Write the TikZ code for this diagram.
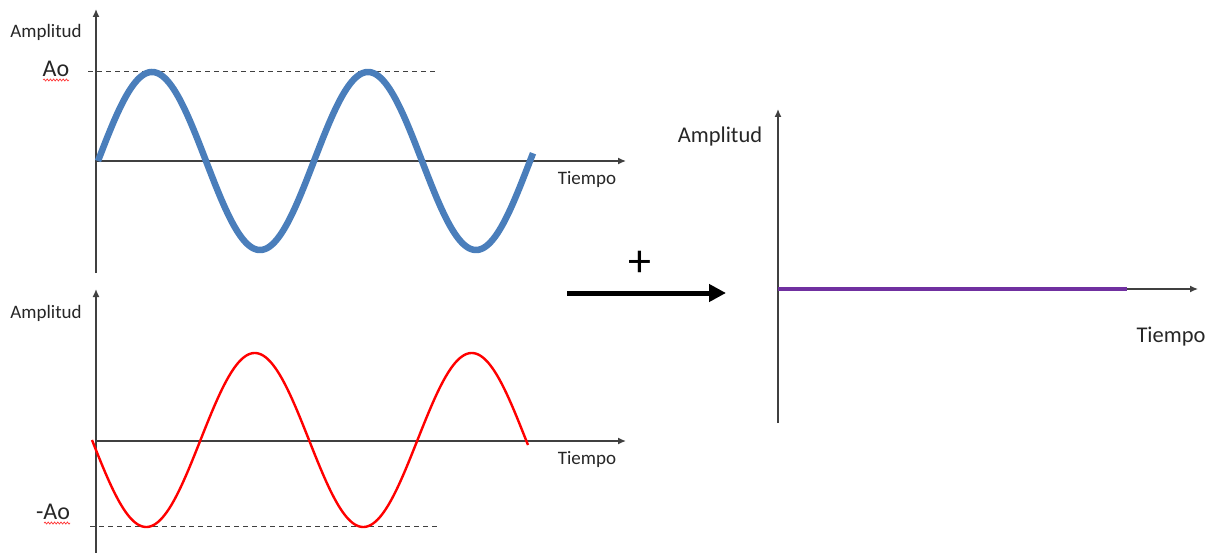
\documentclass[tikz,border=0pt]{standalone}
\usepackage{fontspec}
\setmainfont{Carlito}
\usetikzlibrary{arrows.meta,decorations.pathmorphing}
\definecolor{axisgray}{HTML}{404040}
\definecolor{wblue}{HTML}{4A7EBB}
\definecolor{wpurple}{HTML}{7030A0}
\begin{document}
\begin{tikzpicture}[x=1pt,y=-1pt,
  axis/.style={draw=axisgray,line width=1.4pt,-{Latex[length=8pt,width=7pt]}},
  guide/.style={draw=axisgray,line width=1pt,dash pattern=on 5pt off 4pt},
  smalllab/.style={font=\fontsize{19}{21}\selectfont,text=black!85,inner sep=0pt},
  biglab/.style={font=\fontsize{22.5}{25}\selectfont,text=black!85,inner sep=0pt},
  squig/.style={draw=red!80,line width=0.7pt,decorate,decoration={snake,amplitude=1pt,segment length=3.2pt}}]
\useasboundingbox (0,0) rectangle (1214,553);
% ---- top plot
\coordinate (t0) at (96,273);
\coordinate (ttop) at (96,9);
\coordinate (tx0) at (96,161);
\coordinate (txe) at (626,161);
\draw[axis] (t0) -- (ttop);
\draw[axis] (tx0) -- (txe);
\coordinate (ta1) at (88,72);
\coordinate (ta2) at (436,72);
\draw[guide] (ta1) -- (ta2);
\draw[wblue,line width=6.5pt] plot[domain=98:533,samples=300] (\x,{161-89*sin((\x-98)/216*360)});
\node[smalllab] (amp1) at (46,32) {Amplitud};
\node[smalllab] (tiem1) at (587,179) {Tiempo};
\node[font=\fontsize{24}{26}\selectfont,text=black!85,inner sep=0pt] (ao) at (56,69) {Ao};
\coordinate (sq1a) at (43,80);
\coordinate (sq1b) at (69,80);
\draw[squig] (sq1a) -- (sq1b);
% ---- bottom plot
\coordinate (b0) at (96,553);
\coordinate (btop) at (96,289);
\coordinate (bx0) at (96,441);
\coordinate (bxe) at (626,441);
\draw[axis] (b0) -- (btop);
\draw[axis] (bx0) -- (bxe);
\coordinate (ba1) at (90,526);
\coordinate (ba2) at (440,526);
\draw[guide] (ba1) -- (ba2);
\draw[red,line width=2.4pt] plot[domain=92:528,samples=300] (\x,{440+87*sin((\x-92)/217*360)});
\node[smalllab] (amp2) at (46,313) {Amplitud};
\node[smalllab] (tiem2) at (587,459) {Tiempo};
\node[font=\fontsize{24}{26}\selectfont,text=black!85,inner sep=0pt] (mao) at (53,512) {-Ao};
\coordinate (sq2a) at (44,523);
\coordinate (sq2b) at (70,523);
\draw[squig] (sq2a) -- (sq2b);
% ---- arrow and plus
\coordinate (arA) at (567,293);
\coordinate (arB) at (726,293);
\draw[line width=5pt,-{Triangle[length=17pt,width=17pt]}] (arA) -- (arB);
\node[font=\fontsize{46}{48}\selectfont,inner sep=0pt] (plus) at (640,264) {+};
% ---- right plot
\coordinate (r0) at (778,423);
\coordinate (rtop) at (778,109);
\coordinate (rx0) at (778,289);
\coordinate (rxe) at (1198,289);
\draw[axis] (r0) -- (rtop);
\draw[axis] (rx0) -- (rxe);
\coordinate (p1) at (778,289);
\coordinate (p2) at (1127,289);
\draw[wpurple,line width=4.5pt] (p1) -- (p2);
\node[smalllab,font=\fontsize{22.5}{25}\selectfont] (amp3) at (720,137) {Amplitud};
\node[smalllab,font=\fontsize{22.5}{25}\selectfont] (tiem3) at (1171,337) {Tiempo};
\end{tikzpicture}
\end{document}
